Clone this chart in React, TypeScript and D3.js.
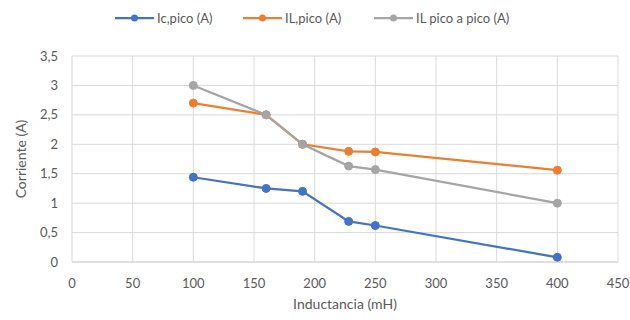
import React from 'react';
import * as d3 from 'd3';

// inductancia (mH)
const inductancia = [100, 160, 190, 228, 250, 400];
const icPico = [1.44, 1.25, 1.2, 0.69, 0.62, 0.08];
const ilPico = [2.7, 2.5, 2.0, 1.88, 1.87, 1.56];
const ilPicoAPico = [3.0, 2.5, 2.0, 1.63, 1.57, 1.0];

const xTicks = [0, 50, 100, 150, 200, 250, 300, 350, 400, 450];
const yTicks = [0, 0.5, 1, 1.5, 2, 2.5, 3, 3.5];

const series = [
  { name: 'Ic,pico (A)', values: icPico, color: '#4472C4' },
  { name: 'IL,pico (A)', values: ilPico, color: '#ED7D31' },
  { name: 'IL pico a pico (A)', values: ilPicoAPico, color: '#A5A5A5' },
];

const width = 630;
const height = 320;
const margin = { top: 56, right: 12, bottom: 58, left: 72 };
const font = 'Lato, "Open Sans", sans-serif';
const textColor = '#595959';

export default function App() {
  const x = d3.scaleLinear().domain([0, 450]).range([margin.left, width - margin.right]);
  const y = d3.scaleLinear().domain([0, 3.5]).range([height - margin.bottom, margin.top]);
  const fmt = (v: number) => String(v).replace('.', ',');

  const line = d3.line<number>()
    .x((_, i) => x(inductancia[i]))
    .y(d => y(d));

  const legendX = [115, 243, 374];

  return (
    <svg width={width} height={height} style={{ position: 'absolute', left: 0, top: 0, background: '#fff' }}
      fontFamily={font}>
      {/* gridlines */}
      {yTicks.map(t => (
        <line key={'gy' + t} x1={x(0)} x2={x(450)} y1={y(t)} y2={y(t)}
          stroke={t === 0 ? '#BFBFBF' : '#D9D9D9'} strokeWidth={1} />
      ))}
      {xTicks.map(t => (
        <line key={'gx' + t} x1={x(t)} x2={x(t)} y1={y(0)} y2={y(3.5)} stroke="#D9D9D9" strokeWidth={1} />
      ))}

      {/* axis labels */}
      {yTicks.map(t => (
        <text key={'ly' + t} x={x(0) - 14} y={y(t)} dy="0.35em" textAnchor="end" fontSize={13} fill={textColor}>
          {fmt(t)}
        </text>
      ))}
      {xTicks.map(t => (
        <text key={'lx' + t} x={x(t)} y={y(0) + 21} dy="0.35em" textAnchor="middle" fontSize={13} fill={textColor}>
          {t}
        </text>
      ))}

      <text x={(x(0) + x(450)) / 2} y={309} textAnchor="middle" fontSize={14} fill={textColor}>
        Inductancia (mH)
      </text>
      <text transform={`translate(26,${(y(0) + y(3.5)) / 2}) rotate(-90)`} textAnchor="middle" fontSize={14}
        fill={textColor}>
        Corriente (A)
      </text>

      {/* series */}
      {series.map(s => (
        <g key={s.name}>
          <path d={line(s.values) || ''} fill="none" stroke={s.color} strokeWidth={2.25} />
          {s.values.map((v, i) => (
            <circle key={i} cx={x(inductancia[i])} cy={y(v)} r={4} fill={s.color} stroke={s.color} />
          ))}
        </g>
      ))}

      {/* legend */}
      {series.map((s, i) => (
        <g key={'lg' + s.name} transform={`translate(${legendX[i]},18)`}>
          <line x1={0} x2={39} y1={0} y2={0} stroke={s.color} strokeWidth={2.25} />
          <circle cx={19.5} cy={0} r={3.5} fill={s.color} />
          <text x={42} y={0} dy="0.35em" fontSize={13} fill={textColor}>{s.name}</text>
        </g>
      ))}
    </svg>
  );
}
